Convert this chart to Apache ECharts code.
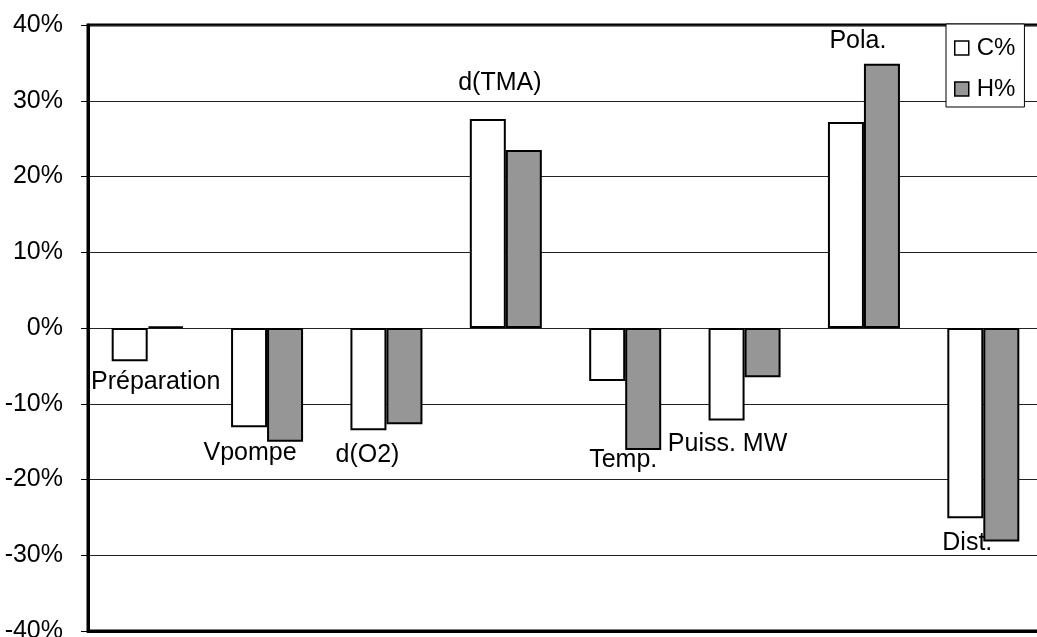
<!DOCTYPE html>
<html>
<head>
<meta charset="utf-8">
<title>Sensibilités C% / H%</title>
<script src="https://cdn.jsdelivr.net/npm/echarts@6/dist/echarts.min.js"></script>
<style>
  html, body { margin: 0; padding: 0; background: #fff; }
  #chart { width: 1037px; height: 637px; }
</style>
</head>
<body>
<div id="chart"></div>
<script>
// Parameters and their effect (in %) on carbon and hydrogen content
const categories = ['Préparation', 'Vpompe', 'd(O2)', 'd(TMA)', 'Temp.', 'Puiss. MW', 'Pola.', 'Dist.'];
const seriesNames = ['C%', 'H%'];
const cPercent = [-4.4, -13.1, -13.5, 27.6, -7.0, -12.2, 27.2, -25.1];
const hPercent = [0.2, -15.0, -12.7, 23.5, -16.1, -6.5, 34.9, -28.2];
const yMin = -40, yMax = 40, yStep = 10;

// Hand placement of each category caption relative to the end of its C% bar (px)
const captionNudge = [[8, 21], [-17, 26], [-19, 25], [-6, -36], [-2, 79], [-17, 24], [-6, -81], [-16, 25]];

const FONT = 'Liberation Sans, Arial, Helvetica, sans-serif';

const chart = echarts.init(document.getElementById('chart'), null, { renderer: 'canvas' });

chart.setOption({
  animation: false,
  backgroundColor: '#fff',
  textStyle: { fontFamily: FONT, color: '#000' },
  grid: {
    left: 88, top: 25, width: 955, height: 606,
    outerBoundsMode: 'none',
    containLabel: false,
    show: true, borderColor: '#000', borderWidth: 3, backgroundColor: 'transparent'
  },
  legend: {
    left: 946, top: 24,
    orient: 'vertical',
    selectedMode: false,
    padding: [12, 9, 6, 8],
    itemGap: 17,
    itemWidth: 14, itemHeight: 14,
    borderColor: '#000', borderWidth: 1,
    backgroundColor: '#fff',
    textStyle: { fontFamily: FONT, fontSize: 24, color: '#000', padding: [0, 0, 0, 3] },
    data: [
      { name: seriesNames[0], icon: 'rect', itemStyle: { color: '#fff', borderColor: '#000', borderWidth: 1.5 } },
      { name: seriesNames[1], icon: 'rect', itemStyle: { color: '#969696', borderColor: '#000', borderWidth: 1.5 } }
    ]
  },
  xAxis: {
    type: 'category',
    data: categories,
    position: 'bottom',
    axisLine: { onZero: false, lineStyle: { color: '#000', width: 3 } },
    axisTick: { show: false },
    axisLabel: { show: false },
    splitLine: { show: false }
  },
  yAxis: {
    type: 'value',
    min: yMin, max: yMax, interval: yStep,
    axisLine: { show: true, lineStyle: { color: '#000', width: 3 } },
    axisTick: { show: true, inside: false, length: 7, lineStyle: { color: '#000', width: 1 } },
    axisLabel: {
      margin: 25,
      fontFamily: FONT, fontSize: 25, color: '#000',
      formatter: v => v + '%'
    },
    splitLine: { show: true, lineStyle: { color: '#222', width: 1 } }
  },
  series: [
    {
      name: seriesNames[0],
      type: 'bar',
      data: cPercent,
      barWidth: 36,
      barGap: '0%',
      itemStyle: { color: '#fff', borderColor: '#000', borderWidth: 2 },
      z: 2
    },
    {
      name: seriesNames[1],
      type: 'bar',
      data: hPercent,
      barWidth: 36,
      barGap: '0%',
      itemStyle: { color: '#969696', borderColor: '#000', borderWidth: 2 },
      z: 2
    },
    {
      // category captions anchored at the end of each C% bar
      name: 'captions',
      type: 'scatter',
      data: cPercent.map((v, i) => ({
        value: v,
        label: { offset: captionNudge[i] }
      })),
      symbolSize: 0,
      silent: true,
      z: 5,
      itemStyle: { opacity: 1 },
      label: {
        show: true,
        position: 'inside',
        fontFamily: FONT,
        fontSize: 25,
        color: '#000',
        opacity: 1,
        textBorderWidth: 0,
        formatter: p => categories[p.dataIndex]
      }
    }
  ]
});
</script>
</body>
</html>
